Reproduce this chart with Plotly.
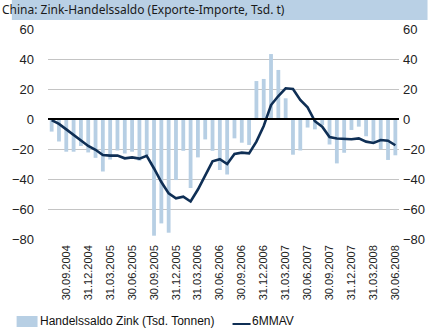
import plotly.graph_objects as go
import pandas as pd

# Monthly categories (month-end), Jul 2004 .. Jun 2008
months = [d.strftime("%d.%m.%Y") for d in pd.date_range("2004-07-31", periods=48, freq="ME")]

# Handelssaldo Zink (Tsd. Tonnen)
saldo = [-8.4, -15, -21.8, -21.8, -18, -22.3, -25.9, -35, -27, -21, -23, -21.8,
         -27.8, -24, -77.8, -69.6, -75.8, -40.7, -21.2, -46, -25.6, -13.6, -21.2, -34,
         -37, -12.9, -15.8, -17.3, 25.3, 26.7, 43.3, 32.7, 13.8, -23.8, -21, -5.7,
         -6.9, -4, -17, -29.6, -22.5, -7.3, -5.1, -11.5, -16.4, -20.1, -27.3, -24.2]

# 6-month moving average
mmav6 = [-0.7, -3.3, -6.9, -10.7, -14, -18, -20.5, -24, -24.4, -24.4, -26.2, -25.6,
         -26.4, -24.5, -33, -42, -49.6, -52.9, -51.8, -55, -47, -38, -28.2, -26.8,
         -30, -23.3, -22.4, -22.9, -15.1, -4.7, 9.3, 15.3, 20.5, 20, 12.7, 7.8,
         -1.5, -5.1, -12, -13, -13.4, -13.5, -12.9, -15.1, -16, -14, -14.5, -17.5]

tick_labels = months[2::3]
y_ticks = [60, 40, 20, 0, -20, -40, -60, -80]

bar_color = "#b7cfe4"
line_color = "#0f2f55"
font_main = "Liberation Sans Narrow, Arial Narrow, Liberation Sans, Arial"

fig = go.Figure()
fig.add_trace(go.Bar(x=months, y=saldo, name="Handelssaldo Zink (Tsd. Tonnen)",
                     marker=dict(color=bar_color, line=dict(width=0)), showlegend=False))
fig.add_trace(go.Scatter(x=months, y=mmav6, name="6MMAV", mode="lines",
                         line=dict(color=line_color, width=2.6), yaxis="y2", showlegend=False))

W, H = 437, 330
L, R, T, B = 38, 30, 29, 91
pw, ph = W - L - R, H - T - B

def px(x):
    return (x - L) / pw

def py(y):
    return (H - B - y) / ph

shapes = [
    # title band
    dict(type="rect", xref="paper", yref="paper", x0=px(0), x1=px(W), y0=py(20), y1=py(0),
         fillcolor="#b9d0e5", line=dict(width=0), layer="below"),
    # zero line
    dict(type="line", xref="paper", yref="y", x0=0, x1=1, y0=0, y1=0,
         line=dict(color="black", width=2.2), layer="above"),
    # legend patch
    dict(type="rect", xref="paper", yref="paper", x0=px(5), x1=px(27), y0=py(327), y1=py(316),
         fillcolor=bar_color, line=dict(width=0)),
    # legend line sample
    dict(type="line", xref="paper", yref="paper", x0=px(232), x1=px(251), y0=py(324), y1=py(324),
         line=dict(color=line_color, width=2)),
]

annotations = [
    dict(text="Handelssaldo Zink (Tsd. Tonnen)", xref="paper", yref="paper", x=px(28), y=py(321),
         xanchor="left", yanchor="middle", showarrow=False,
         font=dict(family="Liberation Sans, Arial", size=12, color="#111111")),
    dict(text="6MMAV", xref="paper", yref="paper", x=px(250), y=py(321),
         xanchor="left", yanchor="middle", showarrow=False,
         font=dict(family="Liberation Sans, Arial", size=12, color="#111111")),
]

fig.update_layout(
    width=W, height=H,
    margin=dict(l=L, r=R, t=T, b=B, pad=0),
    paper_bgcolor="white", plot_bgcolor="white",
    title=dict(text="China: Zink-Handelssaldo (Exporte-Importe, Tsd. t)",
               x=2 / W, xref="container", xanchor="left",
               y=1 - 10 / H, yref="container", yanchor="middle",
               font=dict(family="Noto Sans, Open Sans, sans-serif", size=12, color="#1a1a1a")),
    bargap=0.48,
    xaxis=dict(type="category", range=[-0.5, 47.5], tickmode="array",
               tickvals=tick_labels, ticktext=tick_labels, tickangle=-90,
               showgrid=False, showline=False, ticks="", zeroline=False,
               ticklabelstandoff=3,
               tickfont=dict(family="Liberation Sans, Arial", size=11, color="#222222")),
    yaxis=dict(range=[-80, 60], tickvals=y_ticks, showgrid=True, gridcolor="#c4c4c4",
               gridwidth=1, zeroline=False, showline=False, ticks="",
               ticklabelstandoff=13,
               tickfont=dict(family=font_main, size=13, color="#222222")),
    yaxis2=dict(range=[-80, 60], tickvals=y_ticks, overlaying="y", side="right",
                showgrid=False, zeroline=False, showline=False, ticks="",
                ticklabelstandoff=3,
                tickfont=dict(family=font_main, size=13, color="#222222")),
    shapes=shapes,
    annotations=annotations,
    showlegend=False,
)

fig.write_html("out.html")
